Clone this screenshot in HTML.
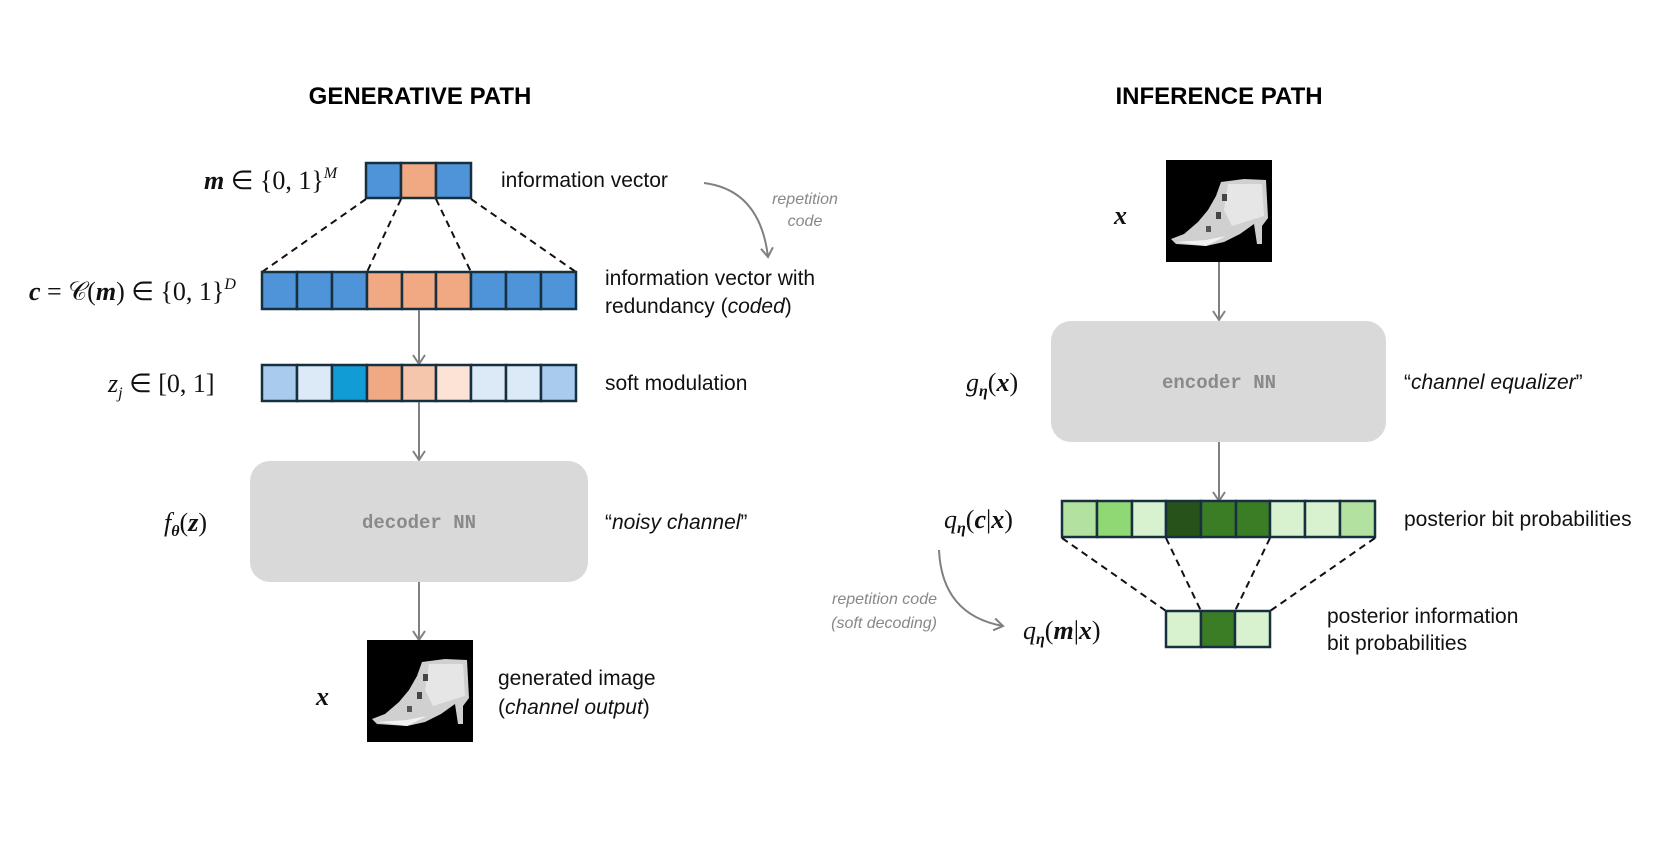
<!DOCTYPE html>
<html><head><meta charset="utf-8"><style>
html,body{margin:0;padding:0;background:#fff;}
svg{display:block;}
.t{font-family:"Liberation Sans",sans-serif;font-size:21px;fill:#111;}
.h{font-family:"Liberation Sans",sans-serif;font-size:24px;font-weight:bold;fill:#000;}
.m{font-family:"Liberation Serif",serif;font-size:26px;fill:#111;}
.g{font-family:"Liberation Sans",sans-serif;font-size:16px;font-style:italic;fill:#888;}
.nn{font-family:"Liberation Mono",monospace;font-size:19px;font-weight:bold;fill:#8a8a8a;}
.cell{stroke:#163040;stroke-width:2.5;}
</style></head><body>
<svg width="1661" height="855" viewBox="0 0 1661 855" xmlns="http://www.w3.org/2000/svg">
<defs>
<marker id="ar" markerWidth="16" markerHeight="16" refX="12" refY="8" orient="auto" markerUnits="userSpaceOnUse" viewBox="0 0 16 16">
<path d="M3,2 L12,8 L3,14" fill="none" stroke="#808080" stroke-width="2"/>
</marker>
<g id="shoe">
<rect x="0" y="0" width="106" height="102" fill="#000"/>
<polygon points="55,22 78,19 100,20 102,58 96,66 96,84 91,84 88,64 74,74 58,82 40,86 10,84 5,79 18,74 32,62 42,50 50,36" fill="#d0d0d0"/>
<polygon points="62,24 96,24 98,56 85,60 66,66 58,50" fill="#e6e6e6"/>
<polygon points="10,82 40,80 60,76 40,86" fill="#f2f2f2"/>
<rect x="56" y="34" width="5" height="7" fill="#444"/>
<rect x="50" y="52" width="5" height="7" fill="#444"/>
<rect x="40" y="66" width="5" height="6" fill="#555"/>
</g>
</defs>

<text class="h" x="420" y="104" text-anchor="middle">GENERATIVE PATH</text>

<rect class="cell" x="366" y="163" width="35" height="35" fill="#4f94d8"/>
<rect class="cell" x="401" y="163" width="35" height="35" fill="#f0a982"/>
<rect class="cell" x="436" y="163" width="35" height="35" fill="#4f94d8"/>
<text class="m" x="204" y="189"><tspan font-weight="bold" font-style="italic">m</tspan> ∈ {0, 1}<tspan dy="-11" font-size="16" font-style="italic">M</tspan></text>
<text class="t" x="501" y="187">information vector</text>

<path d="M704,183 Q760,190 768,257" fill="none" stroke="#808080" stroke-width="2" marker-end="url(#ar)"/>
<text class="g" x="805" y="204" text-anchor="middle">repetition</text>
<text class="g" x="805" y="226" text-anchor="middle">code</text>

<g stroke="#111" stroke-width="2" stroke-dasharray="7,5">
<line x1="366" y1="199" x2="262" y2="272"/>
<line x1="401" y1="199" x2="367" y2="272"/>
<line x1="436" y1="199" x2="471" y2="272"/>
<line x1="471" y1="199" x2="576" y2="272"/>
</g>

<g>
<rect class="cell" x="262" y="272" width="35" height="37" fill="#4f94d8"/>
<rect class="cell" x="297" y="272" width="35" height="37" fill="#4f94d8"/>
<rect class="cell" x="332" y="272" width="35" height="37" fill="#4f94d8"/>
<rect class="cell" x="367" y="272" width="35" height="37" fill="#f0a982"/>
<rect class="cell" x="402" y="272" width="34" height="37" fill="#f0a982"/>
<rect class="cell" x="436" y="272" width="35" height="37" fill="#f0a982"/>
<rect class="cell" x="471" y="272" width="35" height="37" fill="#4f94d8"/>
<rect class="cell" x="506" y="272" width="35" height="37" fill="#4f94d8"/>
<rect class="cell" x="541" y="272" width="35" height="37" fill="#4f94d8"/>
</g>
<text class="m" x="29" y="300"><tspan font-weight="bold" font-style="italic">c</tspan> = 𝒞(<tspan font-weight="bold" font-style="italic">m</tspan>) ∈ {0, 1}<tspan dy="-11" font-size="16" font-style="italic">D</tspan></text>
<text class="t" x="605" y="285">information vector with</text>
<text class="t" x="605" y="313">redundancy (<tspan font-style="italic">coded</tspan>)</text>

<line x1="419" y1="310" x2="419" y2="364" stroke="#808080" stroke-width="2" marker-end="url(#ar)"/>

<g>
<rect class="cell" x="262" y="365" width="35" height="36" fill="#a8cbee"/>
<rect class="cell" x="297" y="365" width="35" height="36" fill="#dce9f7"/>
<rect class="cell" x="332" y="365" width="35" height="36" fill="#129cd5"/>
<rect class="cell" x="367" y="365" width="35" height="36" fill="#f0a982"/>
<rect class="cell" x="402" y="365" width="34" height="36" fill="#f5c6ab"/>
<rect class="cell" x="436" y="365" width="35" height="36" fill="#fbe3d6"/>
<rect class="cell" x="471" y="365" width="35" height="36" fill="#dce9f7"/>
<rect class="cell" x="506" y="365" width="35" height="36" fill="#dce9f7"/>
<rect class="cell" x="541" y="365" width="35" height="36" fill="#a8cbee"/>
</g>
<text class="m" x="108" y="392"><tspan font-style="italic">z</tspan><tspan dy="6" font-size="16" font-style="italic">j</tspan><tspan dy="-6"> ∈ [0, 1]</tspan></text>
<text class="t" x="605" y="390">soft modulation</text>

<line x1="419" y1="402" x2="419" y2="460" stroke="#808080" stroke-width="2" marker-end="url(#ar)"/>

<rect x="250" y="461" width="338" height="121" rx="20" fill="#d9d9d9"/>
<text class="nn" x="419" y="528" text-anchor="middle">decoder NN</text>
<text class="m" x="164" y="531"><tspan font-style="italic">f</tspan><tspan dy="5" font-size="16" font-weight="bold" font-style="italic">θ</tspan><tspan dy="-5">(</tspan><tspan font-weight="bold" font-style="italic">z</tspan>)</text>
<text class="t" x="605" y="529">“<tspan font-style="italic">noisy channel</tspan>”</text>

<line x1="419" y1="582" x2="419" y2="640" stroke="#808080" stroke-width="2" marker-end="url(#ar)"/>
<use href="#shoe" x="367" y="640"/>
<text class="m" x="316" y="705" font-weight="bold" font-style="italic" font-size="30">x</text>
<text class="t" x="498" y="685">generated image</text>
<text class="t" x="498" y="714">(<tspan font-style="italic">channel output</tspan>)</text>

<text class="h" x="1219" y="104" text-anchor="middle">INFERENCE PATH</text>
<use href="#shoe" x="1166" y="160"/>
<text class="m" x="1114" y="224" font-weight="bold" font-style="italic" font-size="30">x</text>

<line x1="1219" y1="262" x2="1219" y2="320" stroke="#808080" stroke-width="2" marker-end="url(#ar)"/>
<rect x="1051" y="321" width="335" height="121" rx="20" fill="#d9d9d9"/>
<text class="nn" x="1219" y="388" text-anchor="middle">encoder NN</text>
<text class="m" x="966" y="391"><tspan font-style="italic">g</tspan><tspan dy="5" font-size="16" font-weight="bold" font-style="italic">η</tspan><tspan dy="-5">(</tspan><tspan font-weight="bold" font-style="italic">x</tspan>)</text>
<text class="t" x="1404" y="389">“<tspan font-style="italic">channel equalizer</tspan>”</text>

<line x1="1219" y1="442" x2="1219" y2="501" stroke="#808080" stroke-width="2" marker-end="url(#ar)"/>

<g>
<rect class="cell" x="1062" y="501" width="35" height="36" fill="#b3e2a0"/>
<rect class="cell" x="1097" y="501" width="35" height="36" fill="#8fd873"/>
<rect class="cell" x="1132" y="501" width="34" height="36" fill="#d8f2d0"/>
<rect class="cell" x="1166" y="501" width="35" height="36" fill="#27521a"/>
<rect class="cell" x="1201" y="501" width="35" height="36" fill="#3a7d24"/>
<rect class="cell" x="1236" y="501" width="34" height="36" fill="#3a7d24"/>
<rect class="cell" x="1270" y="501" width="35" height="36" fill="#d8f2d0"/>
<rect class="cell" x="1305" y="501" width="35" height="36" fill="#d8f2d0"/>
<rect class="cell" x="1340" y="501" width="35" height="36" fill="#b3e2a0"/>
</g>
<text class="m" x="944" y="528"><tspan font-style="italic">q</tspan><tspan dy="5" font-size="16" font-weight="bold" font-style="italic">η</tspan><tspan dy="-5">(</tspan><tspan font-weight="bold" font-style="italic">c</tspan>|<tspan font-weight="bold" font-style="italic">x</tspan>)</text>
<text class="t" x="1404" y="526">posterior bit probabilities</text>

<g stroke="#111" stroke-width="2" stroke-dasharray="7,5">
<line x1="1062" y1="538" x2="1166" y2="611"/>
<line x1="1166" y1="538" x2="1201" y2="611"/>
<line x1="1270" y1="538" x2="1235" y2="611"/>
<line x1="1375" y1="538" x2="1270" y2="611"/>
</g>

<rect class="cell" x="1166" y="611" width="35" height="36" fill="#d8f2d0"/>
<rect class="cell" x="1201" y="611" width="34" height="36" fill="#3a7d24"/>
<rect class="cell" x="1235" y="611" width="35" height="36" fill="#d8f2d0"/>
<text class="m" x="1023" y="639"><tspan font-style="italic">q</tspan><tspan dy="5" font-size="16" font-weight="bold" font-style="italic">η</tspan><tspan dy="-5">(</tspan><tspan font-weight="bold" font-style="italic">m</tspan>|<tspan font-weight="bold" font-style="italic">x</tspan>)</text>
<text class="t" x="1327" y="623">posterior information</text>
<text class="t" x="1327" y="650">bit probabilities</text>

<path d="M939,550 Q942,615 1003,626" fill="none" stroke="#808080" stroke-width="2" marker-end="url(#ar)"/>
<text class="g" x="937" y="604" text-anchor="end">repetition code</text>
<text class="g" x="937" y="628" text-anchor="end">(soft decoding)</text>
</svg>
</body></html>
